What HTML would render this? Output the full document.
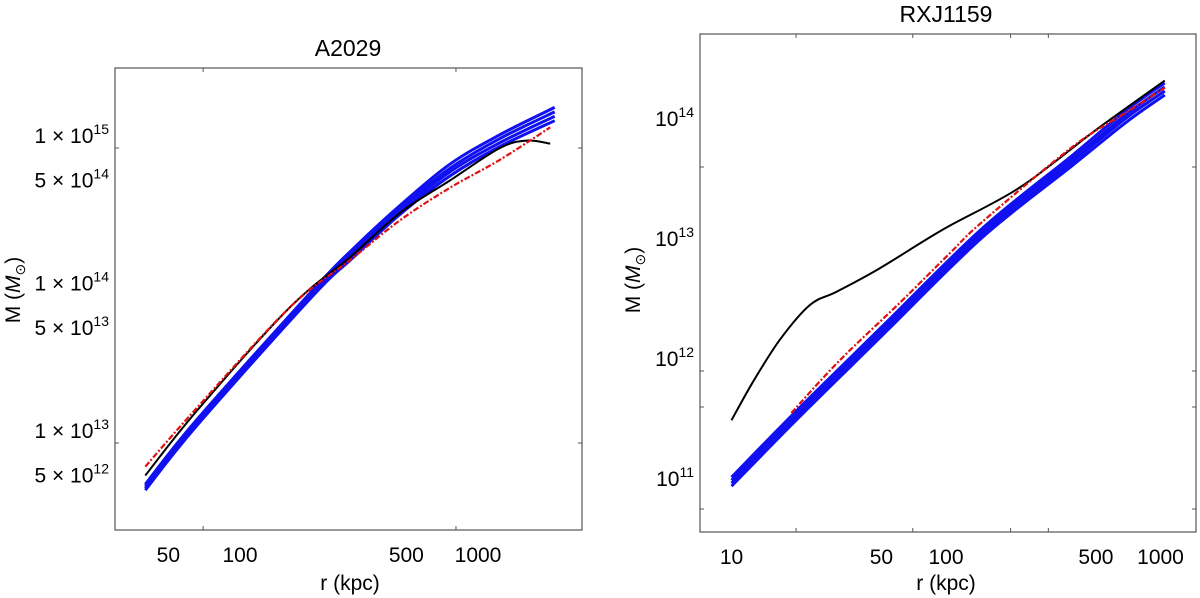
<!DOCTYPE html>
<html><head><meta charset="utf-8"><style>
html,body{margin:0;padding:0;background:#fff;}
svg{display:block;font-family:"Liberation Sans",sans-serif;}
</style></head><body>
<svg id="fig" width="1200" height="598" viewBox="0 0 1200 598">
<g id="left"></g>
<g id="right"></g>
</svg>
<script>
// ---- A2029 data (r in kpc, log10 M) ----
const leftBlueR = [40,66,203,300,470,762,1236,2100];
const leftBlue1 = [12.72,13.16,14.04,14.32,14.61,14.89,15.09,15.275];
const leftBlue2 = [12.707,13.147,14.027,14.30,14.59,14.862,15.064,15.245];
const leftBlue3 = [12.693,13.133,14.013,14.28,14.57,14.838,15.036,15.215];
const leftBlue4 = [12.68,13.12,14.00,14.26,14.55,14.81,15.01,15.185];
const leftBlackR = [40,66,162,290,470,762,1236,1600,2010];
const leftBlack = [12.78,13.22,13.92,14.26,14.56,14.78,15.00,15.05,15.03];
const leftRedR = [40,66,162,290,470,762,1236,2010];
const leftRed = [12.84,13.24,13.92,14.24,14.51,14.73,14.92,15.14];
const leftXTicks = [50,100,500,1000];
const leftYTicks = [[1,15],[5,14],[1,14],[5,13],[1,13],[5,12]];
// ---- RXJ1159 data ----
const rightBlackR = [10,12.6,16.8,23.2,30.9,48.5,97,221,501,1047];
const rightBlack = [11.59,11.91,12.26,12.55,12.66,12.85,13.18,13.53,14.01,14.42];
const rightBlueR = [10,20,50,147,390,700,1047];
const rightBlue1 = [11.115,11.665,12.365,13.185,13.80,14.18,14.40];
const rightBlue2 = [11.09,11.64,12.34,13.16,13.77,14.145,14.367];
const rightBlue3 = [11.065,11.615,12.315,13.135,13.745,14.115,14.333];
const rightBlue4 = [11.04,11.59,12.29,13.11,13.715,14.08,14.30];
const rightRedR = [19,32,61,104,147,390,700,1047];
const rightRed = [11.65,12.09,12.57,12.98,13.24,13.87,14.16,14.36];
const rightXTicks = [10,50,100,500,1000];
const rightYTicks = [11,12,13,14];

const NS="http://www.w3.org/2000/svg";
function mk(parent,tag,attrs){const e=document.createElementNS(NS,tag);for(const k in attrs)e.setAttribute(k,attrs[k]);parent.appendChild(e);return e;}
function smooth(pts){let d="M"+pts[0][0].toFixed(1)+","+pts[0][1].toFixed(1);
 for(let i=0;i<pts.length-1;i++){const p0=pts[Math.max(0,i-1)],p1=pts[i],p2=pts[i+1],p3=pts[Math.min(pts.length-1,i+2)];
  const c1=[p1[0]+(p2[0]-p0[0])/6,p1[1]+(p2[1]-p0[1])/6],c2=[p2[0]-(p3[0]-p1[0])/6,p2[1]-(p3[1]-p1[1])/6];
  d+=` C${c1[0].toFixed(1)},${c1[1].toFixed(1)} ${c2[0].toFixed(1)},${c2[1].toFixed(1)} ${p2[0].toFixed(1)},${p2[1].toFixed(1)}`;}
 return d;}

function panel(g,o){
 const X=r=>o.x0+(Math.log10(r)-o.lx0)*o.xs;
 const Y=m=>o.y0-(m-o.ly0)*o.ys;
 const t=mk(g,'text',{x:o.tx,y:o.ty,'font-size':23,'text-anchor':'middle',fill:'#000'});t.textContent=o.title;
 
 
 const f=mk(g,'rect',{x:o.L,y:o.T,width:o.R-o.L,height:o.B-o.T,fill:'none',stroke:'#555','stroke-width':1.2});
 
 
 o.xMinor.forEach(r=>{const x=X(r);
  const a=mk(g,'line',{x1:x,x2:x,y1:o.B,y2:o.B-4,stroke:'#555'});
  const b=mk(g,'line',{x1:x,x2:x,y1:o.T,y2:o.T+4,stroke:'#555'});});
 o.yMinor.forEach(m=>{const y=Y(m);
  const a=mk(g,'line',{x1:o.L,x2:o.L+4,y1:y,y2:y,stroke:'#555'});
  const b=mk(g,'line',{x1:o.R,x2:o.R-4,y1:y,y2:y,stroke:'#555'});});
 o.xTicks.forEach(r=>{const tx=mk(g,'text',{x:X(r),y:o.B+32,'font-size':21,'text-anchor':'middle'});tx.textContent=r;
  
  });
 o.yTicks.forEach(yt=>{const m=o.sci?Math.log10(yt[0])+yt[1]:yt; const y=Y(m)-5;
  const tx=mk(g,'text',{x:o.L-6,y:y,'font-size':21,'text-anchor':'end'});
  
  
  const base=o.sci?(yt[0]+" \u00d7 10"):"10";
  const s1=document.createElementNS(NS,'tspan');s1.textContent=base;tx.appendChild(s1);
  const s2=document.createElementNS(NS,'tspan');s2.setAttribute('font-size',14);s2.setAttribute('dy',-9);s2.textContent=o.sci?yt[1]:yt;tx.appendChild(s2);});
 const xl=mk(g,'text',{x:o.xlx,y:590,'font-size':21,'text-anchor':'middle'});xl.textContent='r (kpc)';
 
 
 const yl=mk(g,'text',{x:0,y:0,'font-size':21,'text-anchor':'middle',transform:`translate(${o.ylx},${o.yly}) rotate(-90)`});
 
 
 const a1=document.createElementNS(NS,'tspan');a1.textContent='M (';yl.appendChild(a1);
 const a2=document.createElementNS(NS,'tspan');a2.setAttribute('font-style','italic');a2.textContent='M';yl.appendChild(a2);
 const a3=document.createElementNS(NS,'tspan');a3.setAttribute('font-size',14);a3.setAttribute('dy',5);a3.textContent='\u2299';yl.appendChild(a3);
 const a4=document.createElementNS(NS,'tspan');a4.setAttribute('dy',-5);a4.textContent=')';yl.appendChild(a4);
 const draw=(rs,ms,attrs,name)=>{const p=mk(g,'path',Object.assign({d:smooth(rs.map((r,i)=>[X(r),Y(ms[i])])),fill:'none'},attrs));
  
  };
 o.blues.forEach((b,i)=>draw(o.blueR,b,{stroke:'#1010f0','stroke-width':3},'blue-model-line-'+(i+1)));
 draw(o.blackR,o.black,{stroke:'#000','stroke-width':2},'black-mass-profile');
 draw(o.redR,o.red,{stroke:'#e01010','stroke-width':2.2,'stroke-dasharray':'6,2,2,2'},'red-dashdot-profile');
}

panel(document.getElementById('left'),{title:'A2029',tx:348,ty:56,L:115,R:582,T:68,B:530,
 x0:240,lx0:2,xs:238,y0:443,ly0:13,ys:147.5,xTicks:leftXTicks,yTicks:leftYTicks,sci:true,
 xMinor:[70,808],yMinor:[15,13],xlx:350,ylx:20,yly:290,
 blueR:leftBlueR,blues:[leftBlue1,leftBlue2,leftBlue3,leftBlue4],blackR:leftBlackR,black:leftBlack,redR:leftRedR,red:leftRed});
panel(document.getElementById('right'),{title:'RXJ1159',tx:946,ty:22,L:700,R:1196,T:34,B:532,
 x0:946,lx0:2,xs:214.5,y0:371,ly0:12,ys:120,xTicks:rightXTicks,yTicks:rightYTicks,sci:false,
 xMinor:[20,70,200,300],yMinor:[13.7,12,11.7,10.85],xlx:946,ylx:640,yly:280,
 blueR:rightBlueR,blues:[rightBlue1,rightBlue2,rightBlue3,rightBlue4],blackR:rightBlackR,black:rightBlack,redR:rightRedR,red:rightRed});
</script>
</body></html>
